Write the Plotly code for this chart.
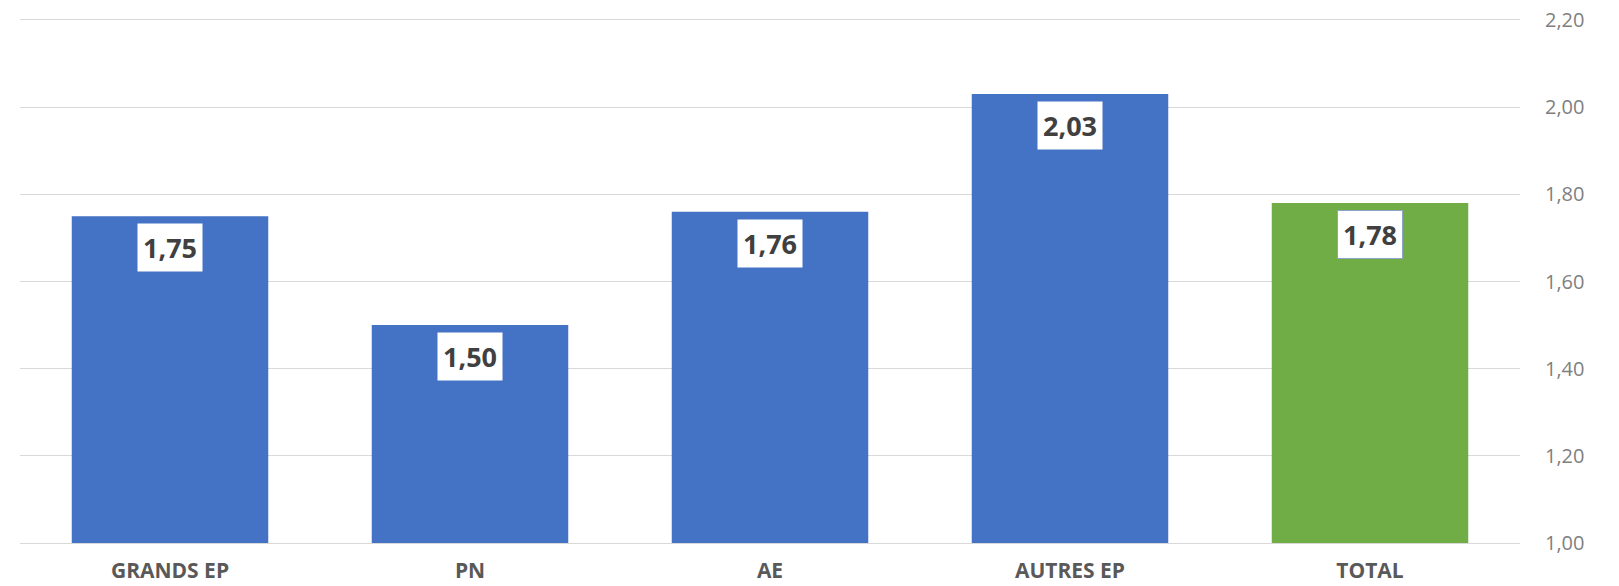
import plotly.graph_objects as go

categories = ["GRANDS EP", "PN", "AE", "AUTRES EP", "TOTAL"]
values = [1.75, 1.50, 1.76, 2.03, 1.78]
bar_colors = ["#4472C4", "#4472C4", "#4472C4", "#4472C4", "#70AD47"]
tick_vals = [1.0, 1.2, 1.4, 1.6, 1.8, 2.0, 2.2]

fig = go.Figure()
fig.add_trace(go.Bar(
    x=categories, y=values, marker=dict(color=bar_colors, line=dict(width=0)),
    hoverinfo="skip",
))

for c, v in zip(categories, values):
    fig.add_annotation(
        x=c, y=v, yanchor="top", yshift=-7, showarrow=False,
        text=f"{v:.2f}".replace(".", ","),
        font=dict(family="Open Sans", size=27, color="#404040", weight="bold"),
        bgcolor="white", borderpad=5,
        bordercolor="#8EA3C8" if c == "TOTAL" else "rgba(0,0,0,0)", borderwidth=1,
    )

fig.update_layout(
    width=1611, height=578,
    margin=dict(l=12, r=99, t=12, b=43),
    paper_bgcolor="white", plot_bgcolor="white",
    bargap=0.345, showlegend=False,
    xaxis=dict(
        showgrid=False, showline=True, mirror=True, linecolor="#d9d9d9", linewidth=1,
        tickfont=dict(family="Open Sans", size=21, color="#595959", weight="bold"),
        ticks="", ticklabelstandoff=9, automargin=False,
    ),
    yaxis=dict(
        side="right", range=[1.0, 2.2], tickvals=tick_vals,
        ticktext=[f"{t:.2f}".replace(".", ",") for t in tick_vals],
        showgrid=True, gridcolor="#d9d9d9", gridwidth=1, zeroline=False,
        tickfont=dict(family="Open Sans", size=20, color="#7f7f7f"),
        ticks="", ticklabelstandoff=24, automargin=False,
        ticklabeloverflow="allow",
    ),
)

fig.write_html("out.html")
